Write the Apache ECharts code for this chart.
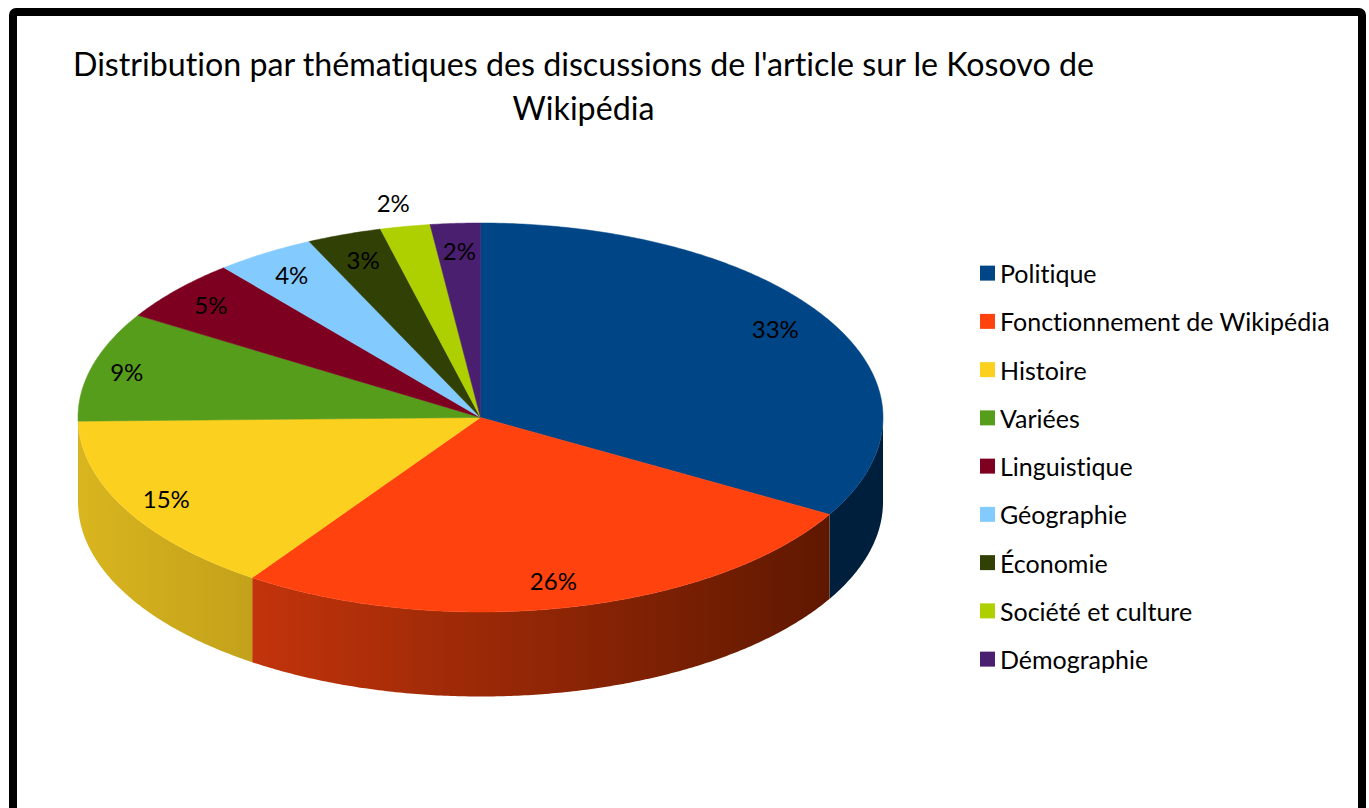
<!DOCTYPE html>
<html>
<head>
<meta charset="utf-8">
<style>
  html, body { margin: 0; padding: 0; background: #fff; }
  #chart { width: 1369px; height: 808px; }
  #chart text { font-variant-ligatures: none; }
</style>
<script src="https://cdn.jsdelivr.net/npm/echarts@6/dist/echarts.min.js"></script>
</head>
<body>
<div id="chart"></div>
<script>
const categories = ['Politique', 'Fonctionnement de Wikipédia', 'Histoire', 'Variées', 'Linguistique', 'Géographie', 'Économie', 'Société et culture', 'Démographie']
const shares = [33.3, 26.3, 15.1, 9.1, 5.2, 4, 3, 2, 2]
const percentLabels = ['33%', '26%', '15%', '9%', '5%', '4%', '3%', '2%', '2%']
const colors = ['#004586', '#ff420e', '#fbd01e', '#579d1c', '#7e0021', '#83caff', '#314004', '#aecf00', '#4b1f6f']
const sideLeftColors = ['#001f3d', '#c2340b', '#d9b51f', '#3a6a12', '#550016', '#5a8bb0', '#212b03', '#768c00', '#33154b']
const sideRightColors = ['#001f3d', '#5f1800', '#c3a11a', '#3a6a12', '#550016', '#5a8bb0', '#212b03', '#768c00', '#33154b']

const CX = 480.5
const CY = 417.5
const RX = 402.5
const RY = 194.5
const DEPTH = 84.5
const FONT = 'Lato, Carlito, sans-serif'

// pixel nudges of the percent labels away from their default spot
const labelNudges = [[-10, -4], [-5, -3], [-4, 0], [-14, -1], [-4, -1], [0, 1], [2, 2], [-2, 1], [1, 3]]

const total = shares.reduce((a, b) => a + b, 0)

// angle in degrees, clockwise from the top of the pie
const rimPoint = (deg, drop = 0, factor = 1) => {
  const rad = deg * Math.PI / 180
  return [CX + RX * factor * Math.sin(rad), CY - RY * factor * Math.cos(rad) + drop]
}

const arcPoints = (from, to, drop = 0) => {
  const pts = []
  const steps = Math.max(2, Math.ceil((to - from) * 2))
  for (let s = 0; s <= steps; s++) {
    pts.push(rimPoint(from + (to - from) * s / steps, drop))
  }
  return pts
}

const renderSlice = (index, startDeg, endDeg) => () => {
  const children = []
  // only the front half of the rim shows a wall
  const wallFrom = Math.max(startDeg, 90)
  const wallTo = Math.min(endDeg, 270)
  if (wallTo > wallFrom) {
    children.push({
      type: 'polygon',
      shape: { points: arcPoints(wallFrom, wallTo).concat(arcPoints(wallFrom, wallTo, DEPTH).reverse()) },
      style: {
        fill: new echarts.graphic.LinearGradient(0, 0, 1, 0, [
          { offset: 0, color: sideLeftColors[index] },
          { offset: 1, color: sideRightColors[index] }
        ])
      }
    })
  }
  children.push({
    type: 'polygon',
    shape: { points: [[CX, CY]].concat(arcPoints(startDeg, endDeg)) },
    style: { fill: colors[index], stroke: colors[index], lineWidth: 0.5 }
  })
  // the Société et culture label sits outside its thin slice
  const labelFactor = index === 7 ? 1.13 : 0.875
  const labelPos = rimPoint((startDeg + endDeg) / 2, 0, labelFactor)
  children.push({
    type: 'text',
    z2: 100,
    style: {
      text: percentLabels[index],
      x: labelPos[0] + labelNudges[index][0],
      y: labelPos[1] + labelNudges[index][1],
      align: 'center',
      verticalAlign: 'middle',
      font: '24px ' + FONT,
      fill: '#000'
    }
  })
  return { type: 'group', children }
}

let running = 0
const series = categories.map((name, i) => {
  const startDeg = running / total * 360
  running += shares[i]
  const endDeg = running / total * 360
  return {
    name,
    type: 'custom',
    coordinateSystem: 'none',
    itemStyle: { color: colors[i] },
    silent: true,
    data: [[shares[i]]],
    renderItem: renderSlice(i, startDeg, endDeg)
  }
})

const chartInstance = echarts.init(document.getElementById('chart'), null, { renderer: 'svg' })

chartInstance.setOption({
  animation: false,
  backgroundColor: '#fff',
  title: {
    text: "Distribution par thématiques des discussions de l'article sur le Kosovo de\nWikipédia",
    left: 583.5,
    top: 41,
    padding: 0,
    textAlign: 'center',
    textStyle: {
      color: '#000',
      fontFamily: FONT,
      fontSize: 32.2,
      fontWeight: 'normal',
      lineHeight: 44
    }
  },
  legend: {
    orient: 'vertical',
    left: 980,
    top: 259,
    padding: 0,
    itemWidth: 15,
    itemHeight: 15,
    itemGap: 20,
    selectedMode: false,
    icon: 'rect',
    textStyle: {
      color: '#000',
      fontFamily: FONT,
      fontSize: 25,
      lineHeight: 28.25
    },
    data: categories
  },
  graphic: [
    {
      type: 'rect',
      silent: true,
      z: 50,
      shape: { x: 13, y: 12, width: 1349, height: 900, r: 3 },
      style: { fill: 'none', stroke: '#000', lineWidth: 8 }
    }
  ],
  series
})
</script>
</body>
</html>
